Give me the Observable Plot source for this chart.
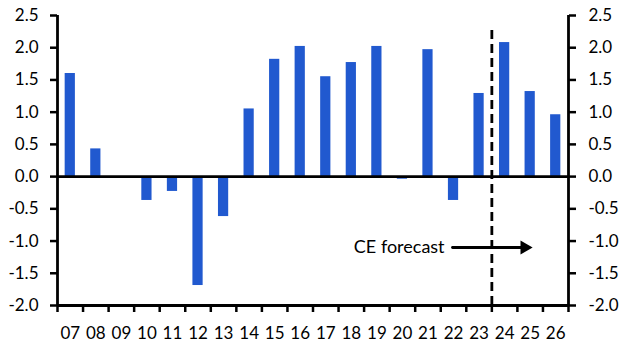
<!DOCTYPE html>
<html><head><meta charset="utf-8">
<script src="https://cdn.jsdelivr.net/npm/d3@7"></script>
<script src="https://cdn.jsdelivr.net/npm/@observablehq/plot@0.6"></script>
<style>body{margin:0;background:#fff}</style>
</head><body><div id="chart"></div>
<script>
const years = [7,8,9,10,11,12,13,14,15,16,17,18,19,20,21,22,23,24,25,26];
const values = [1.60,0.43,0,-0.37,-0.23,-1.69,-0.62,1.05,1.82,2.02,1.55,1.77,2.02,-0.04,1.97,-0.37,1.29,2.08,1.32,0.96];
const yTicks = [-2,-1.5,-1,-0.5,0,0.5,1,1.5,2,2.5];
const barHalf = 0.2;
const forecastBoundary = [23.5];
const dashTop = 2.33;
const annotationY = -1.1;
const arrowStart = 21.96, arrowLineEnd = 24.7, arrowHead = 24.78;
const labelX = 21.65, labelText = "CE forecast";

const data = years.map((y, i) => ({year: y, value: values[i]}));
const boundaries = years.map(y => y - 0.5).concat([years[years.length - 1] + 0.5]);
const xDomain = [boundaries[0], boundaries[boundaries.length - 1]];
const fmt = d => d.toFixed(1);

const chart = Plot.plot({
  width: 629,
  height: 360,
  marginLeft: 57,
  marginRight: 61,
  marginTop: 15,
  marginBottom: 55,
  style: {fontFamily: "Lato", fontSize: "17px", color: "#000", background: "#fff"},
  x: {domain: xDomain, label: null},
  y: {domain: [yTicks[0], yTicks[yTicks.length - 1]], label: null},
  marks: [
    Plot.rectY(data, {x1: d => d.year - barHalf, x2: d => d.year + barHalf, y: "value", fill: "#2159cf"}),
    Plot.ruleY([0, yTicks[0]], {stroke: "#000", strokeWidth: 2.8}),
    Plot.ruleX(xDomain, {stroke: "#000", strokeWidth: 2.8}),
    Plot.ruleX(forecastBoundary, {y1: yTicks[0], y2: dashTop, stroke: "#000", strokeWidth: 2.8, strokeDasharray: "9,5"}),
    Plot.axisY(yTicks, {anchor: "left", tickSize: 7, tickPadding: 12, tickFormat: fmt, strokeWidth: 2.5, fontSize: 17, label: null}),
    Plot.axisY(yTicks, {anchor: "right", tickSize: 7, tickPadding: 13, tickFormat: fmt, strokeWidth: 2.5, fontSize: 17, label: null}),
    Plot.axisX(boundaries, {tickSize: 7, tickFormat: () => "", strokeWidth: 2.5, label: null}),
    Plot.axisX(years, {tickSize: 0, tickPadding: 21, tickFormat: d => String(d).padStart(2, "0"), fontSize: 17, label: null}),
    Plot.arrow([0], {x1: arrowStart, x2: arrowLineEnd, y1: annotationY, y2: annotationY, headLength: 0, stroke: "#000", strokeWidth: 2.8}),
    Plot.dot([0], {x: arrowHead, y: annotationY, symbol: "triangle", rotate: 90, r: 5.2, fill: "#000", stroke: "none"}),
    Plot.text([labelText], {x: labelX, y: annotationY, text: d => d, textAnchor: "end", fontSize: 18, fill: "#000"})
  ]
});
document.getElementById("chart").appendChild(chart);
</script>
</body></html>
